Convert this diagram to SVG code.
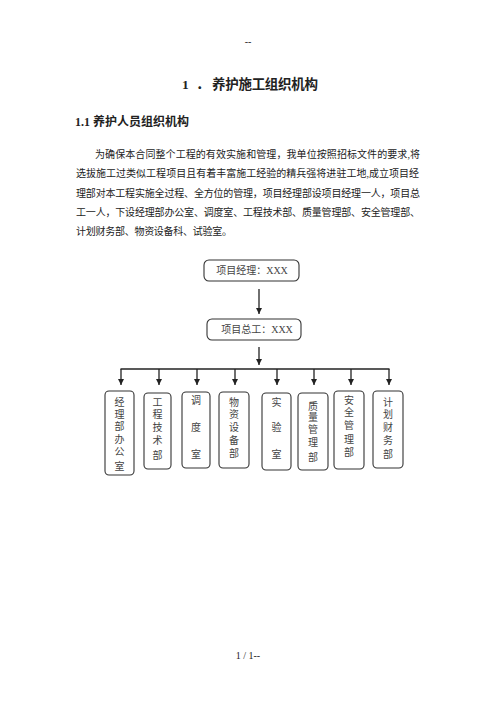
<svg xmlns="http://www.w3.org/2000/svg" width="496" height="702" viewBox="0 0 496 702">
<style>
  .t { font-family: "Liberation Serif", "Noto Sans CJK SC", serif; fill: #222; }
  .p { font-size: 10px; }
  .bx { fill: #fff; stroke: #333; stroke-width: 1.1; }
  .bt { font-family: "Liberation Serif", "Noto Sans CJK SC", serif; font-size: 10px; fill: #444; text-anchor: middle; }
  .ln { stroke: #222; stroke-width: 1.3; fill: none; }
</style>
<defs>
  <marker id="ah" viewBox="0 0 10 10" refX="10" refY="5" markerWidth="6" markerHeight="6" markerUnits="userSpaceOnUse" orient="auto">
    <path d="M0,0 L10,5 L0,10 z" fill="#222"/>
  </marker>
</defs>
<rect width="496" height="702" fill="#fff"/>
<text class="t" x="248" y="45" font-size="10" text-anchor="middle">--</text>
<g class="t" font-size="13.5" font-weight="bold">
  <text x="182" y="89">1</text>
  <text x="196" y="89">．</text>
  <text x="212" y="89" textLength="106" lengthAdjust="spacing">养护施工组织机构</text>
</g>
<text class="t" x="75" y="125.5" font-size="12" font-weight="bold">1.1 养护人员组织机构</text>
<g class="t p">
  <text x="95" y="158" textLength="325" lengthAdjust="spacing">为确保本合同整个工程的有效实施和管理，我单位按照招标文件的要求,将</text>
  <text x="76" y="177" textLength="343" lengthAdjust="spacing">选拔施工过类似工程项目且有着丰富施工经验的精兵强将进驻工地,成立项目经</text>
  <text x="76" y="197" textLength="344" lengthAdjust="spacing">理部对本工程实施全过程、全方位的管理，项目经理部设项目经理一人，项目总</text>
  <text x="76" y="216" textLength="344" lengthAdjust="spacing">工一人，下设经理部办公室、调度室、工程技术部、质量管理部、安全管理部、</text>
  <text x="76" y="235" textLength="156" lengthAdjust="spacing">计划财务部、物资设备科、试验室。</text>
</g>
<g id="connectors">
  <line class="ln" x1="259" y1="289" x2="259" y2="314" marker-end="url(#ah)"/>
  <line class="ln" x1="259" y1="347" x2="259" y2="365" marker-end="url(#ah)"/>
  <line class="ln" x1="120.5" y1="369" x2="389.5" y2="369"/>
  <line class="ln" x1="121" y1="369" x2="121" y2="385" marker-end="url(#ah)"/>
  <line class="ln" x1="159" y1="369" x2="159" y2="385" marker-end="url(#ah)"/>
  <line class="ln" x1="197" y1="369" x2="197" y2="385" marker-end="url(#ah)"/>
  <line class="ln" x1="235" y1="369" x2="235" y2="385" marker-end="url(#ah)"/>
  <line class="ln" x1="277" y1="369" x2="277" y2="385" marker-end="url(#ah)"/>
  <line class="ln" x1="314" y1="369" x2="314" y2="385" marker-end="url(#ah)"/>
  <line class="ln" x1="351" y1="369" x2="351" y2="385" marker-end="url(#ah)"/>
  <line class="ln" x1="389" y1="369" x2="389" y2="385" marker-end="url(#ah)"/>
</g>
<g id="pm">
  <rect class="bx" x="204" y="260" width="95" height="21" rx="5"/>
  <text class="bt" x="252" y="274">项目经理：XXX</text>
</g>
<g id="ce">
  <rect class="bx" x="207" y="319" width="94" height="21" rx="5"/>
  <text class="bt" x="257" y="333">项目总工：XXX</text>
</g>
<g id="d1">
  <rect class="bx" x="105" y="391" width="29" height="84" rx="4"/>
  <text class="bt" x="119.5" y="406">经</text><text class="bt" x="119.5" y="418">理</text><text class="bt" x="119.5" y="430">部</text><text class="bt" x="119.5" y="443">办</text><text class="bt" x="119.5" y="455">公</text><text class="bt" x="119.5" y="470">室</text>
</g>
<g id="d2">
  <rect class="bx" x="144" y="393" width="27" height="76" rx="4"/>
  <text class="bt" x="157.5" y="406">工</text><text class="bt" x="157.5" y="418">程</text><text class="bt" x="157.5" y="431">技</text><text class="bt" x="157.5" y="444">术</text><text class="bt" x="157.5" y="459">部</text>
</g>
<g id="d3">
  <rect class="bx" x="182" y="392" width="28" height="76" rx="4"/>
  <text class="bt" x="196" y="404">调</text><text class="bt" x="196" y="431">度</text><text class="bt" x="196" y="458">室</text>
</g>
<g id="d4">
  <rect class="bx" x="219" y="392" width="30" height="76" rx="4"/>
  <text class="bt" x="234" y="406">物</text><text class="bt" x="234" y="418">资</text><text class="bt" x="234" y="431">设</text><text class="bt" x="234" y="444">备</text><text class="bt" x="234" y="457">部</text>
</g>
<g id="d5">
  <rect class="bx" x="262" y="393" width="29" height="77" rx="4"/>
  <text class="bt" x="276.5" y="406">实</text><text class="bt" x="276.5" y="431">验</text><text class="bt" x="276.5" y="458">室</text>
</g>
<g id="d6">
  <rect class="bx" x="298" y="393" width="30" height="77" rx="4"/>
  <text class="bt" x="313" y="410">质</text><text class="bt" x="313" y="421">量</text><text class="bt" x="313" y="433">管</text><text class="bt" x="313" y="446">理</text><text class="bt" x="313" y="461">部</text>
</g>
<g id="d7">
  <rect class="bx" x="334" y="391" width="30" height="78" rx="4"/>
  <text class="bt" x="349" y="404">安</text><text class="bt" x="349" y="416">全</text><text class="bt" x="349" y="429">管</text><text class="bt" x="349" y="443">理</text><text class="bt" x="349" y="456">部</text>
</g>
<g id="d8">
  <rect class="bx" x="373" y="391" width="30" height="77" rx="4"/>
  <text class="bt" x="388" y="406">计</text><text class="bt" x="388" y="418">划</text><text class="bt" x="388" y="431">财</text><text class="bt" x="388" y="444">务</text><text class="bt" x="388" y="458">部</text>
</g>
<text class="t" x="248" y="659" font-size="10" text-anchor="middle">1 / 1--</text>
</svg>
